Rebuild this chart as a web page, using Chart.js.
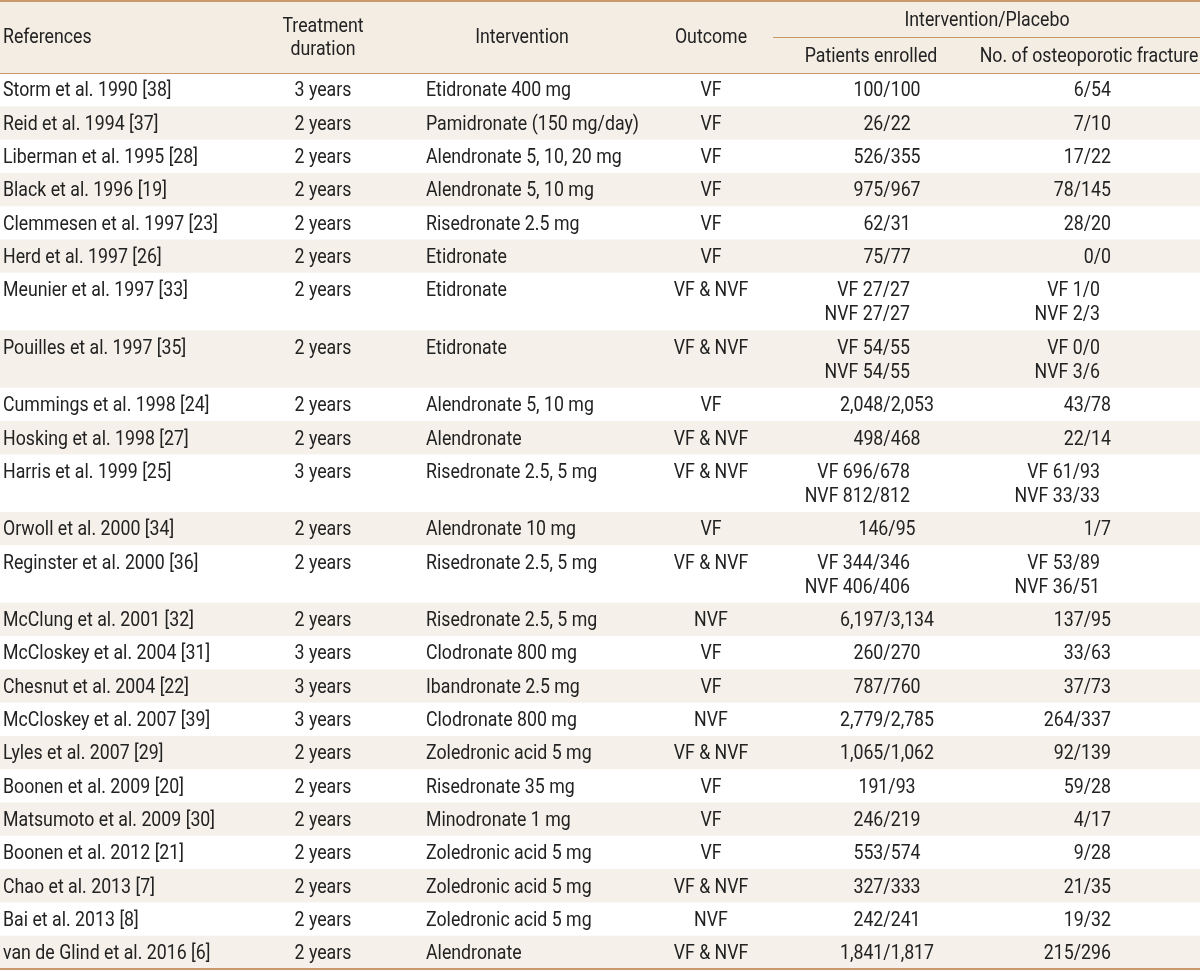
<!DOCTYPE html>
<html>
<head>
<meta charset="utf-8">
<title>Bisphosphonate trials</title>
<script src="https://cdn.jsdelivr.net/npm/chart.js@4.4.1/dist/chart.umd.min.js"></script>
<style>
  html, body { margin: 0; padding: 0; background: #fff; }
  #wrap { width: 1200px; height: 971px; }
</style>
</head>
<body>
<div id="wrap"><canvas id="tableChart" width="1200" height="971"></canvas></div>
<script>
// table data
const references = [
	'Storm et al. 1990 [38]', 'Reid et al. 1994 [37]', 'Liberman et al. 1995 [28]', 'Black et al. 1996 [19]',
	'Clemmesen et al. 1997 [23]', 'Herd et al. 1997 [26]', 'Meunier et al. 1997 [33]', 'Pouilles et al. 1997 [35]',
	'Cummings et al. 1998 [24]', 'Hosking et al. 1998 [27]', 'Harris et al. 1999 [25]', 'Orwoll et al. 2000 [34]',
	'Reginster et al. 2000 [36]', 'McClung et al. 2001 [32]', 'McCloskey et al. 2004 [31]', 'Chesnut et al. 2004 [22]',
	'McCloskey et al. 2007 [39]', 'Lyles et al. 2007 [29]', 'Boonen et al. 2009 [20]', 'Matsumoto et al. 2009 [30]',
	'Boonen et al. 2012 [21]', 'Chao et al. 2013 [7]', 'Bai et al. 2013 [8]', 'van de Glind et al. 2016 [6]'
];
const durations = [
	'3 years', '2 years', '2 years', '2 years', '2 years', '2 years', '2 years', '2 years',
	'2 years', '2 years', '3 years', '2 years', '2 years', '2 years', '3 years', '3 years',
	'3 years', '2 years', '2 years', '2 years', '2 years', '2 years', '2 years', '2 years'
];
const interventions = [
	'Etidronate 400 mg', 'Pamidronate (150 mg/day)', 'Alendronate 5, 10, 20 mg', 'Alendronate 5, 10 mg',
	'Risedronate 2.5 mg', 'Etidronate', 'Etidronate', 'Etidronate',
	'Alendronate 5, 10 mg', 'Alendronate', 'Risedronate 2.5, 5 mg', 'Alendronate 10 mg',
	'Risedronate 2.5, 5 mg', 'Risedronate 2.5, 5 mg', 'Clodronate 800 mg', 'Ibandronate 2.5 mg',
	'Clodronate 800 mg', 'Zoledronic acid 5 mg', 'Risedronate 35 mg', 'Minodronate 1 mg',
	'Zoledronic acid 5 mg', 'Zoledronic acid 5 mg', 'Zoledronic acid 5 mg', 'Alendronate'
];
const outcomes = [
	'VF', 'VF', 'VF', 'VF', 'VF', 'VF', 'VF & NVF', 'VF & NVF',
	'VF', 'VF & NVF', 'VF & NVF', 'VF', 'VF & NVF', 'NVF', 'VF', 'VF',
	'NVF', 'VF & NVF', 'VF', 'VF', 'VF', 'VF & NVF', 'NVF', 'VF & NVF'
];
const patientsEnrolled = [
	'100/100', '26/22', '526/355', '975/967', '62/31', '75/77', 'VF 27/27\nNVF 27/27', 'VF 54/55\nNVF 54/55',
	'2,048/2,053', '498/468', 'VF 696/678\nNVF 812/812', '146/95', 'VF 344/346\nNVF 406/406', '6,197/3,134', '260/270', '787/760',
	'2,779/2,785', '1,065/1,062', '191/93', '246/219', '553/574', '327/333', '242/241', '1,841/1,817'
];
const fractures = [
	'6/54', '7/10', '17/22', '78/145', '28/20', '0/0', 'VF 1/0\nNVF 2/3', 'VF 0/0\nNVF 3/6',
	'43/78', '22/14', 'VF 61/93\nNVF 33/33', '1/7', 'VF 53/89\nNVF 36/51', '137/95', '33/63', '37/73',
	'264/337', '92/139', '59/28', '4/17', '9/28', '21/35', '19/32', '215/296'
];
const headerLabels = ['References', 'Treatment\nduration', 'Intervention', 'Outcome', 'Patients enrolled', 'No. of osteoporotic fracture'];
const groupLabel = 'Intervention/Placebo';

// layout (table units = px)
const TABLE_W = 1200, TABLE_H = 971;
const HEADER_H = 73, PAD = 4.55, LINE_H = 24.2;
const FONT = '21px Roboto';
const SQUEEZE = 0.845;   // condensed look
const TEXT_DY = 1.5;
const TEXT_COLOR = '#222222';
const BAND_COLOR = '#f5f0ea';
const HEAD_COLOR = '#f3ede4';
const RULE_COLOR = '#c9996a';

const columns = [
	{ cells: references,       x: 3,    align: 'left',   headX: 3,    headAlign: 'left' },
	{ cells: durations,        x: 323,  align: 'center', headX: 323,  headAlign: 'center' },
	{ cells: interventions,    x: 426,  align: 'left',   headX: 522,  headAlign: 'center' },
	{ cells: outcomes,         x: 711,  align: 'center', headX: 711,  headAlign: 'center' },
	{ cells: patientsEnrolled, x: 887,  align: 'center', multiX: 910,  multiAlign: 'right', headX: 871,  headAlign: 'center', sub: true },
	{ cells: fractures,        x: 1111, align: 'right',  multiX: 1100, multiAlign: 'right', headX: 1089, headAlign: 'center', sub: true }
];

// row positions from number of lines in each row
const lineCounts = references.map((r, i) =>
	Math.max(...columns.map(c => c.cells[i].split('\n').length)));
const rowTops = [];
let acc = HEADER_H;
lineCounts.forEach(n => {
	rowTops.push(acc);
	acc += 2 * PAD + n * LINE_H;
});
const tableBottom = acc;

function drawText(ctx, text, x, y, align) {
	ctx.save();
	ctx.translate(x, y + TEXT_DY);
	ctx.scale(SQUEEZE, 1);
	ctx.textAlign = align;
	ctx.fillText(text, 0, 0);
	ctx.restore();
}

const tablePlugin = {
	id: 'tablePlugin',
	beforeDatasetsDraw(chart) {
		const ctx = chart.ctx;
		const xs = chart.scales.x, ys = chart.scales.y;
		const left = xs.getPixelForValue(0), right = xs.getPixelForValue(TABLE_W);

		ctx.save();
		// header band
		ctx.fillStyle = HEAD_COLOR;
		ctx.fillRect(left, ys.getPixelForValue(0), right - left, ys.getPixelForValue(HEADER_H) - ys.getPixelForValue(0));
		// alternating row bands
		ctx.fillStyle = BAND_COLOR;
		rowTops.forEach((top, i) => {
			if (i % 2 === 1) {
				const bottom = i + 1 < rowTops.length ? rowTops[i + 1] : tableBottom;
				const y0 = ys.getPixelForValue(top), y1 = ys.getPixelForValue(bottom);
				ctx.fillRect(left, y0, right - left, y1 - y0);
			}
		});
		// rules
		ctx.strokeStyle = RULE_COLOR;
		ctx.lineWidth = 2;
		ctx.beginPath();
		ctx.moveTo(left, ys.getPixelForValue(1)); ctx.lineTo(right, ys.getPixelForValue(1));
		ctx.moveTo(left, ys.getPixelForValue(tableBottom)); ctx.lineTo(right, ys.getPixelForValue(tableBottom));
		ctx.stroke();
		ctx.lineWidth = 1;
		ctx.beginPath();
		ctx.moveTo(left, ys.getPixelForValue(HEADER_H) + 0.5); ctx.lineTo(right, ys.getPixelForValue(HEADER_H) + 0.5);
		ctx.moveTo(xs.getPixelForValue(773), ys.getPixelForValue(37) + 0.5); ctx.lineTo(right, ys.getPixelForValue(37) + 0.5);
		ctx.stroke();

		// header text
		ctx.fillStyle = TEXT_COLOR;
		ctx.font = FONT;
		ctx.textBaseline = 'middle';
		drawText(ctx, groupLabel, xs.getPixelForValue(987), ys.getPixelForValue(19), 'center');
		columns.forEach((c, i) => {
			const lines = headerLabels[i].split('\n');
			const x = xs.getPixelForValue(c.headX);
			if (c.sub) {
				drawText(ctx, lines[0], x, ys.getPixelForValue(55), c.headAlign);
			} else {
				const mid = HEADER_H / 2;
				lines.forEach((ln, k) => {
					const yv = mid + (k - (lines.length - 1) / 2) * 23;
					drawText(ctx, ln, x, ys.getPixelForValue(yv), c.headAlign);
				});
			}
		});
		ctx.restore();
	},
	afterDatasetsDraw(chart) {
		const ctx = chart.ctx;
		const xs = chart.scales.x, ys = chart.scales.y;
		ctx.save();
		ctx.fillStyle = TEXT_COLOR;
		ctx.font = FONT;
		ctx.textBaseline = 'middle';
		chart.data.datasets.forEach((ds, di) => {
			const col = columns[di];
			chart.getDatasetMeta(di).data.forEach((pt, ri) => {
				const lines = ds.texts[ri].split('\n');
				const multi = lines.length > 1;
				const x = multi ? xs.getPixelForValue(col.multiX) : pt.x;
				const align = multi ? col.multiAlign : col.align;
				lines.forEach((ln, k) => {
					const y = ys.getPixelForValue(ds.data[ri].y + k * LINE_H);
					drawText(ctx, ln, x, y, align);
				});
			});
		});
		ctx.restore();
	}
};

const datasets = columns.map((c, ci) => ({
	label: headerLabels[ci],
	texts: c.cells,
	data: c.cells.map((t, ri) => ({ x: c.x, y: rowTops[ri] + PAD + LINE_H / 2 })),
	pointRadius: 0,
	showLine: false
}));

const tableChart = new Chart(document.getElementById('tableChart'), {
	type: 'scatter',
	data: { datasets: datasets },
	options: {
		responsive: false,
		animation: false,
		events: [],
		layout: { padding: 0 },
		plugins: { legend: { display: false }, tooltip: { enabled: false } },
		scales: {
			x: { type: 'linear', display: false, min: 0, max: TABLE_W },
			y: { type: 'linear', display: false, min: 0, max: TABLE_H, reverse: true }
		}
	},
	plugins: [tablePlugin]
});
</script>
</body>
</html>
